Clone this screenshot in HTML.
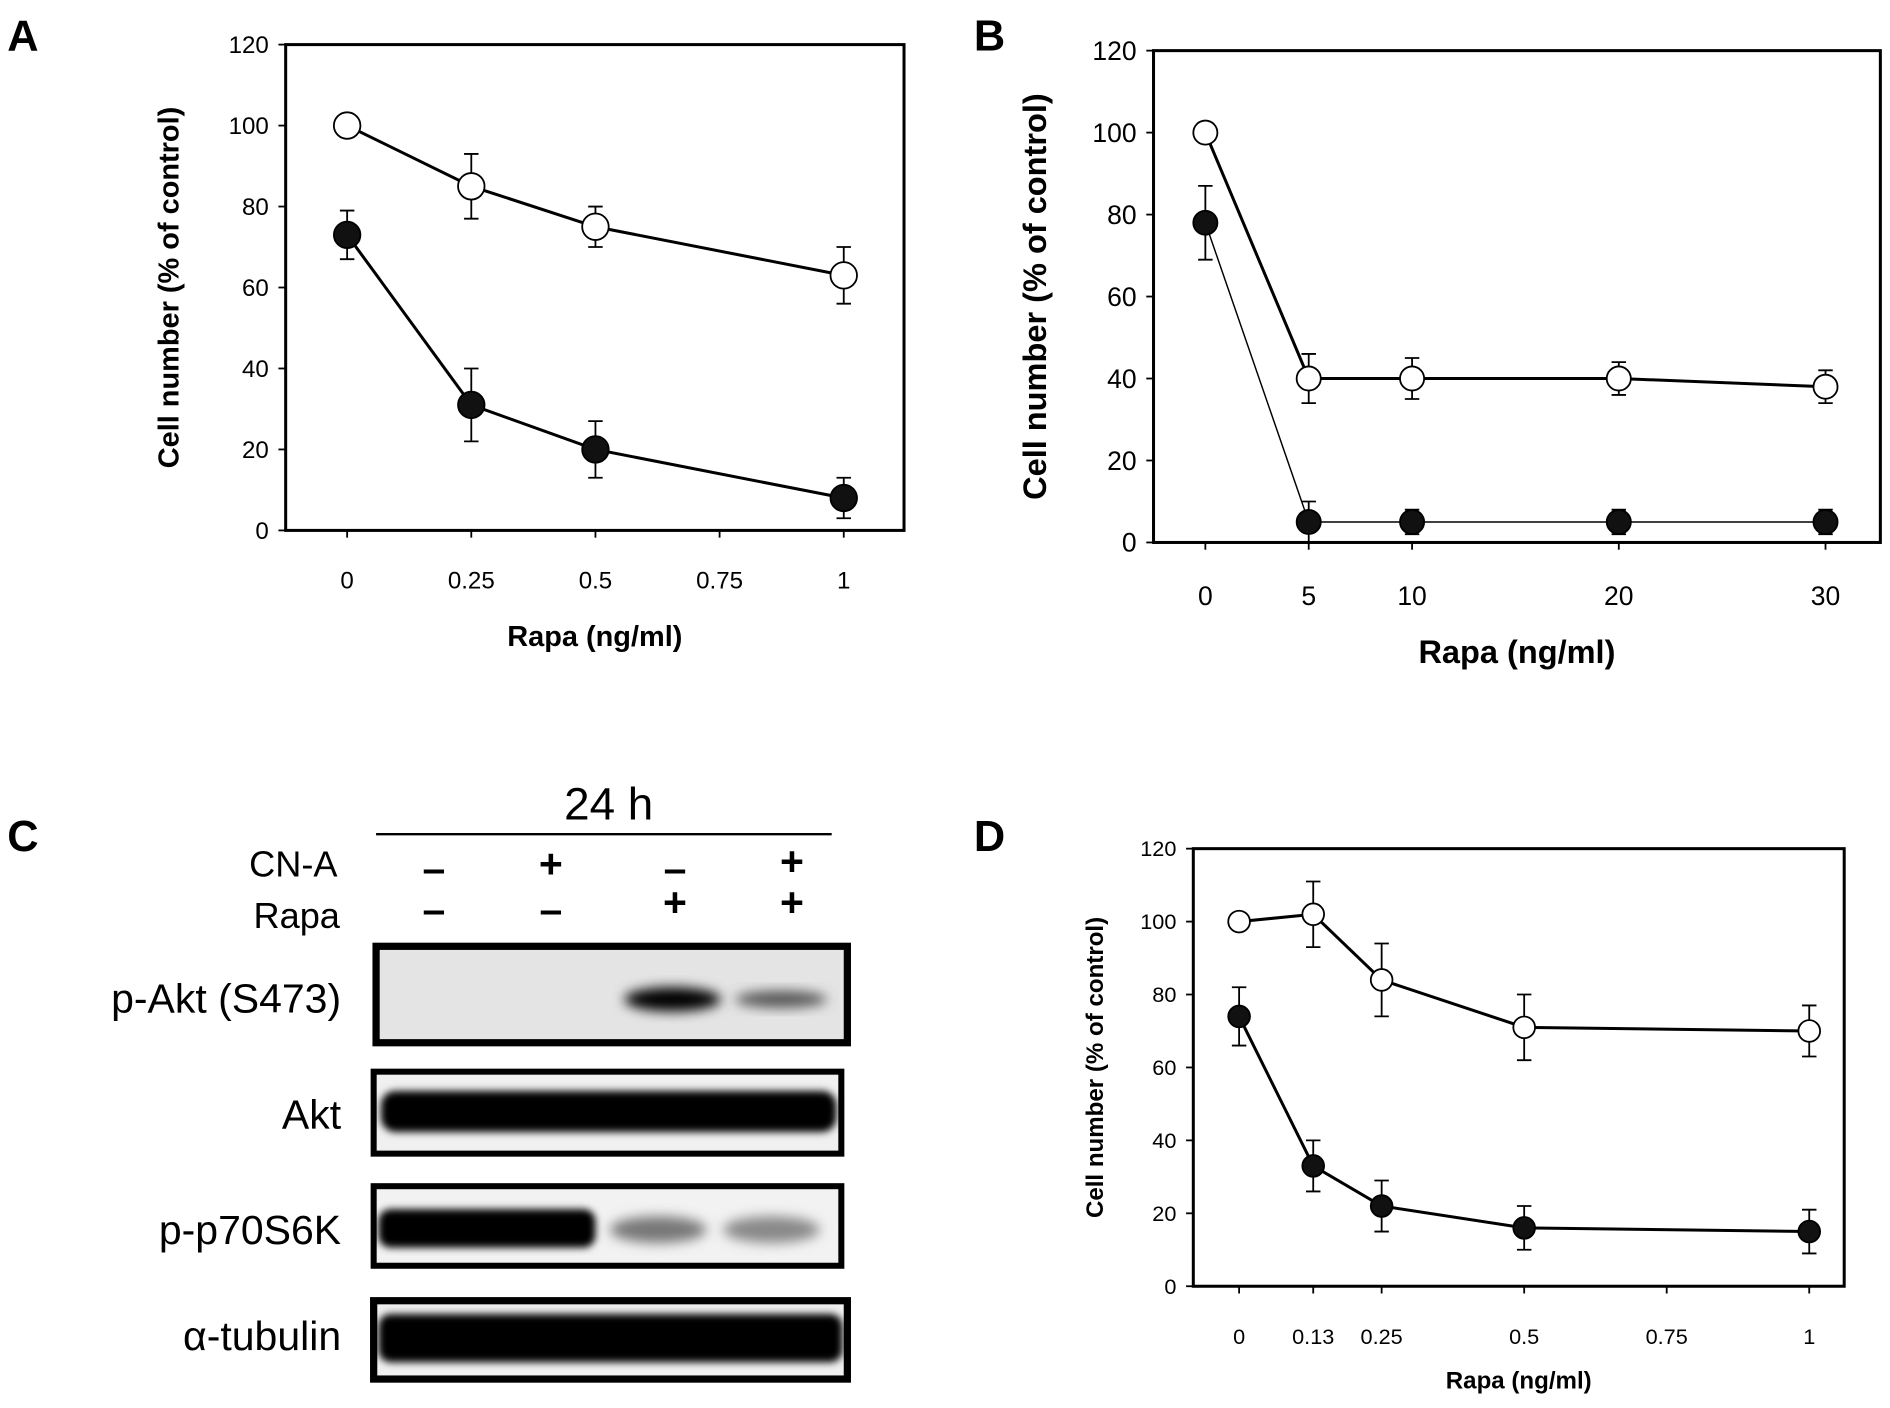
<!DOCTYPE html>
<html><head><meta charset="utf-8"><style>
html,body{margin:0;padding:0;background:#fff}
svg{display:block}
text{font-family:"Liberation Sans",Arial,sans-serif}
</style></head><body>
<svg id="fig" width="1890" height="1408" viewBox="0 0 1568 1168" preserveAspectRatio="none" xmlns="http://www.w3.org/2000/svg">
<defs>
<filter id="blur" x="-20%" y="-50%" width="140%" height="200%"><feGaussianBlur stdDeviation="5"/></filter>
<filter id="blur2" x="-20%" y="-50%" width="140%" height="200%"><feGaussianBlur stdDeviation="3"/></filter>
</defs>
<g id="panelA"></g>
<g id="panelB"></g>
<g id="panelD"></g>
<g id="panelC">
  <text x="6" y="706" font-size="36" font-weight="bold">C</text>
  <text x="505" y="680" font-size="38" text-anchor="middle">24 h</text>
  <line x1="312" y1="692" x2="690" y2="692" stroke="#000" stroke-width="2"/>
  <text x="280" y="727" font-size="30" text-anchor="end">CN-A</text>
  <text x="282" y="770" font-size="30" text-anchor="end">Rapa</text>
  <g font-size="34" font-weight="bold" text-anchor="middle">
    <text x="360" y="732">–</text><text x="457" y="728">+</text><text x="560" y="732">–</text><text x="657" y="726">+</text>
    <text x="360" y="766">–</text><text x="457" y="766">–</text><text x="560" y="760">+</text><text x="657" y="760">+</text>
  </g>
  <text x="283" y="840" font-size="34" text-anchor="end">p-Akt (S473)</text>
  <text x="283" y="936" font-size="34" text-anchor="end">Akt</text>
  <text x="283" y="1032" font-size="34" text-anchor="end">p-p70S6K</text>
  <text x="283" y="1120" font-size="34" text-anchor="end">α-tubulin</text>
  <!-- p-Akt -->
  <g>
    <rect x="312" y="785" width="391" height="80" fill="#e4e4e4" stroke="#000" stroke-width="6"/>
    <ellipse cx="558" cy="829" rx="40" ry="10" fill="#000" filter="url(#blur)"/>
    <ellipse cx="648" cy="829" rx="38" ry="7" fill="#555" filter="url(#blur)"/>
  </g>
  <g>
    <rect x="310" y="889" width="388" height="68" fill="#f0f0f0" stroke="#000" stroke-width="5"/>
    <rect x="316" y="905" width="378" height="34" rx="12" fill="#000" filter="url(#blur2)"/>
  </g>
  <g>
    <rect x="310" y="984" width="388" height="66" fill="#f2f2f2" stroke="#000" stroke-width="5"/>
    <rect x="314" y="1003" width="180" height="32" rx="10" fill="#000" filter="url(#blur2)"/>
    <ellipse cx="546" cy="1020" rx="40" ry="11" fill="#777" filter="url(#blur)"/>
    <ellipse cx="640" cy="1020" rx="40" ry="11" fill="#888" filter="url(#blur)"/>
  </g>
  <g>
    <rect x="310" y="1079" width="393" height="65" fill="#f0f0f0" stroke="#000" stroke-width="6"/>
    <rect x="314" y="1090" width="385" height="40" rx="10" fill="#000" filter="url(#blur2)"/>
  </g>
</g>
</svg>
<script>
// Panel A data
const aX = [0, 0.25, 0.5, 1];
const aOpen = [100, 85, 75, 63];
const aOpenErr = [0, 8, 5, 7];
const aFilled = [73, 31, 20, 8];
const aFilledErr = [6, 9, 7, 5];
const aTicksX = [0, 0.25, 0.5, 0.75, 1];
const aTickLabelsX = ['0', '0.25', '0.5', '0.75', '1'];
// Panel B data
const bX = [0, 5, 10, 20, 30];
const bOpen = [100, 40, 40, 40, 38];
const bOpenErr = [0, 6, 5, 4, 4];
const bFilled = [78, 5, 5, 5, 5];
const bFilledErr = [9, 5, 3, 3, 3];
const bTicksX = [0, 5, 10, 20, 30];
const bTickLabelsX = ['0', '5', '10', '20', '30'];
// Panel D data
const dX = [0, 0.13, 0.25, 0.5, 1];
const dOpen = [100, 102, 84, 71, 70];
const dOpenErr = [0, 9, 10, 9, 7];
const dFilled = [74, 33, 22, 16, 15];
const dFilledErr = [8, 7, 7, 6, 6];
const dTicksX = [0, 0.13, 0.25, 0.5, 0.75, 1];
const dTickLabelsX = ['0', '0.13', '0.25', '0.5', '0.75', '1'];
const yTicks = [0, 20, 40, 60, 80, 100, 120];

const NS = 'http://www.w3.org/2000/svg';
function mk(parent, tag, attrs, txt) {
  const e = document.createElementNS(NS, tag);
  for (const k in attrs) e.setAttribute(k, attrs[k]);
  if (txt !== undefined) e.textContent = txt;
  parent.appendChild(e);
  return e;
}
function chart(g, o) {
  const sx = v => o.x0 + (v - o.xmin) / (o.xmax - o.xmin) * (o.x1 - o.x0);
  const sy = v => o.yb - v / 120 * (o.yb - o.yt);
  const lab = mk(g, 'text', {x: o.lx, y: o.ly, 'font-size': 36, 'font-weight': 'bold'}, o.label);
  
  
  const box = mk(g, 'rect', {x: o.bx0, y: o.yt, width: o.bx1 - o.bx0, height: o.yb - o.yt, fill: 'none', stroke: '#000', 'stroke-width': 2.5});
  
  
  yTicks.forEach(t => {
    const y = sy(t);
    mk(g, 'line', {x1: o.bx0 - 6, x2: o.bx0, y1: y, y2: y, stroke: '#000', 'stroke-width': 1.5});
    const tl = mk(g, 'text', {x: o.bx0 - 14, y: y + o.fs * 0.35, 'font-size': o.fs, 'text-anchor': 'end'}, String(t));
    
    
  });
  o.ticks.forEach((t, i) => {
    const x = sx(t);
    mk(g, 'line', {x1: x, x2: x, y1: o.yb, y2: o.yb + 6, stroke: '#000', 'stroke-width': 1.5});
    const tl = mk(g, 'text', {x: x, y: o.yb + o.xlo, 'font-size': o.fs, 'text-anchor': 'middle'}, o.tickLabels[i]);
    
    
  });
  const xt = mk(g, 'text', {x: (o.bx0 + o.bx1) / 2, y: o.xty, 'font-size': o.tfs, 'font-weight': 'bold', 'text-anchor': 'middle'}, 'Rapa (ng/ml)');
  
  
  const cy = (o.yt + o.yb) / 2;
  const yt = mk(g, 'text', {x: o.ytx, y: cy, 'font-size': o.tfs, 'font-weight': 'bold', 'text-anchor': 'middle', transform: `rotate(-90 ${o.ytx} ${cy})`}, o.ytitle);
  
  
  [['filled', o.filled, o.filledErr, '#111', o.fw], ['open', o.open, o.openErr, '#fff', 2.5]].forEach(([nm, vals, errs, fill, lw]) => {
    const sg = mk(g, 'g', {});
    
    
    const pts = o.xs.map((x, i) => sx(x) + ',' + sy(vals[i])).join(' ');
    const pl = mk(sg, 'polyline', {points: pts, fill: 'none', stroke: '#000', 'stroke-width': lw});
    
    
    o.xs.forEach((x, i) => {
      const px = sx(x), py = sy(vals[i]), e = errs[i];
      if (e > 0) {
        const eb = mk(sg, 'path', {d: `M${px},${sy(vals[i] - e)}V${sy(vals[i] + e)}M${px - 6},${sy(vals[i] + e)}H${px + 6}M${px - 6},${sy(vals[i] - e)}H${px + 6}`, stroke: '#000', 'stroke-width': 1.5, fill: 'none'});
        
        
      }
      const c = mk(sg, 'circle', {cx: px, cy: py, r: o.r, fill: fill, stroke: '#000', 'stroke-width': 1.5});
      
      
    });
  });
}
chart(document.getElementById('panelA'), {label: 'A', lx: 6, ly: 42, bx0: 237, bx1: 750, yt: 37, yb: 440, x0: 288, x1: 700, xmin: 0, xmax: 1,
  xs: aX, open: aOpen, openErr: aOpenErr, filled: aFilled, filledErr: aFilledErr, ticks: aTicksX, tickLabels: aTickLabelsX,
  fs: 20, xlo: 48, tfs: 24, xty: 536, ytx: 148, ytitle: 'Cell number (% of control)', r: 11, fw: 2.5});
chart(document.getElementById('panelB'), {label: 'B', lx: 808, ly: 42, bx0: 957, bx1: 1560, yt: 42, yb: 450, x0: 1000, x1: 1514.5, xmin: 0, xmax: 30,
  xs: bX, open: bOpen, openErr: bOpenErr, filled: bFilled, filledErr: bFilledErr, ticks: bTicksX, tickLabels: bTickLabelsX,
  fs: 22, xlo: 52, tfs: 27, xty: 550, ytx: 868, ytitle: 'Cell number (% of control)', r: 10, fw: 1.2});
chart(document.getElementById('panelD'), {label: 'D', lx: 808, ly: 706, bx0: 990, bx1: 1530, yt: 704, yb: 1067, x0: 1028, x1: 1501, xmin: 0, xmax: 1,
  xs: dX, open: dOpen, openErr: dOpenErr, filled: dFilled, filledErr: dFilledErr, ticks: dTicksX, tickLabels: dTickLabelsX,
  fs: 18, xlo: 48, tfs: 20, xty: 1152, ytx: 915, ytitle: 'Cell number (%  of control)', r: 9, fw: 2.5});
</script>
</body></html>
